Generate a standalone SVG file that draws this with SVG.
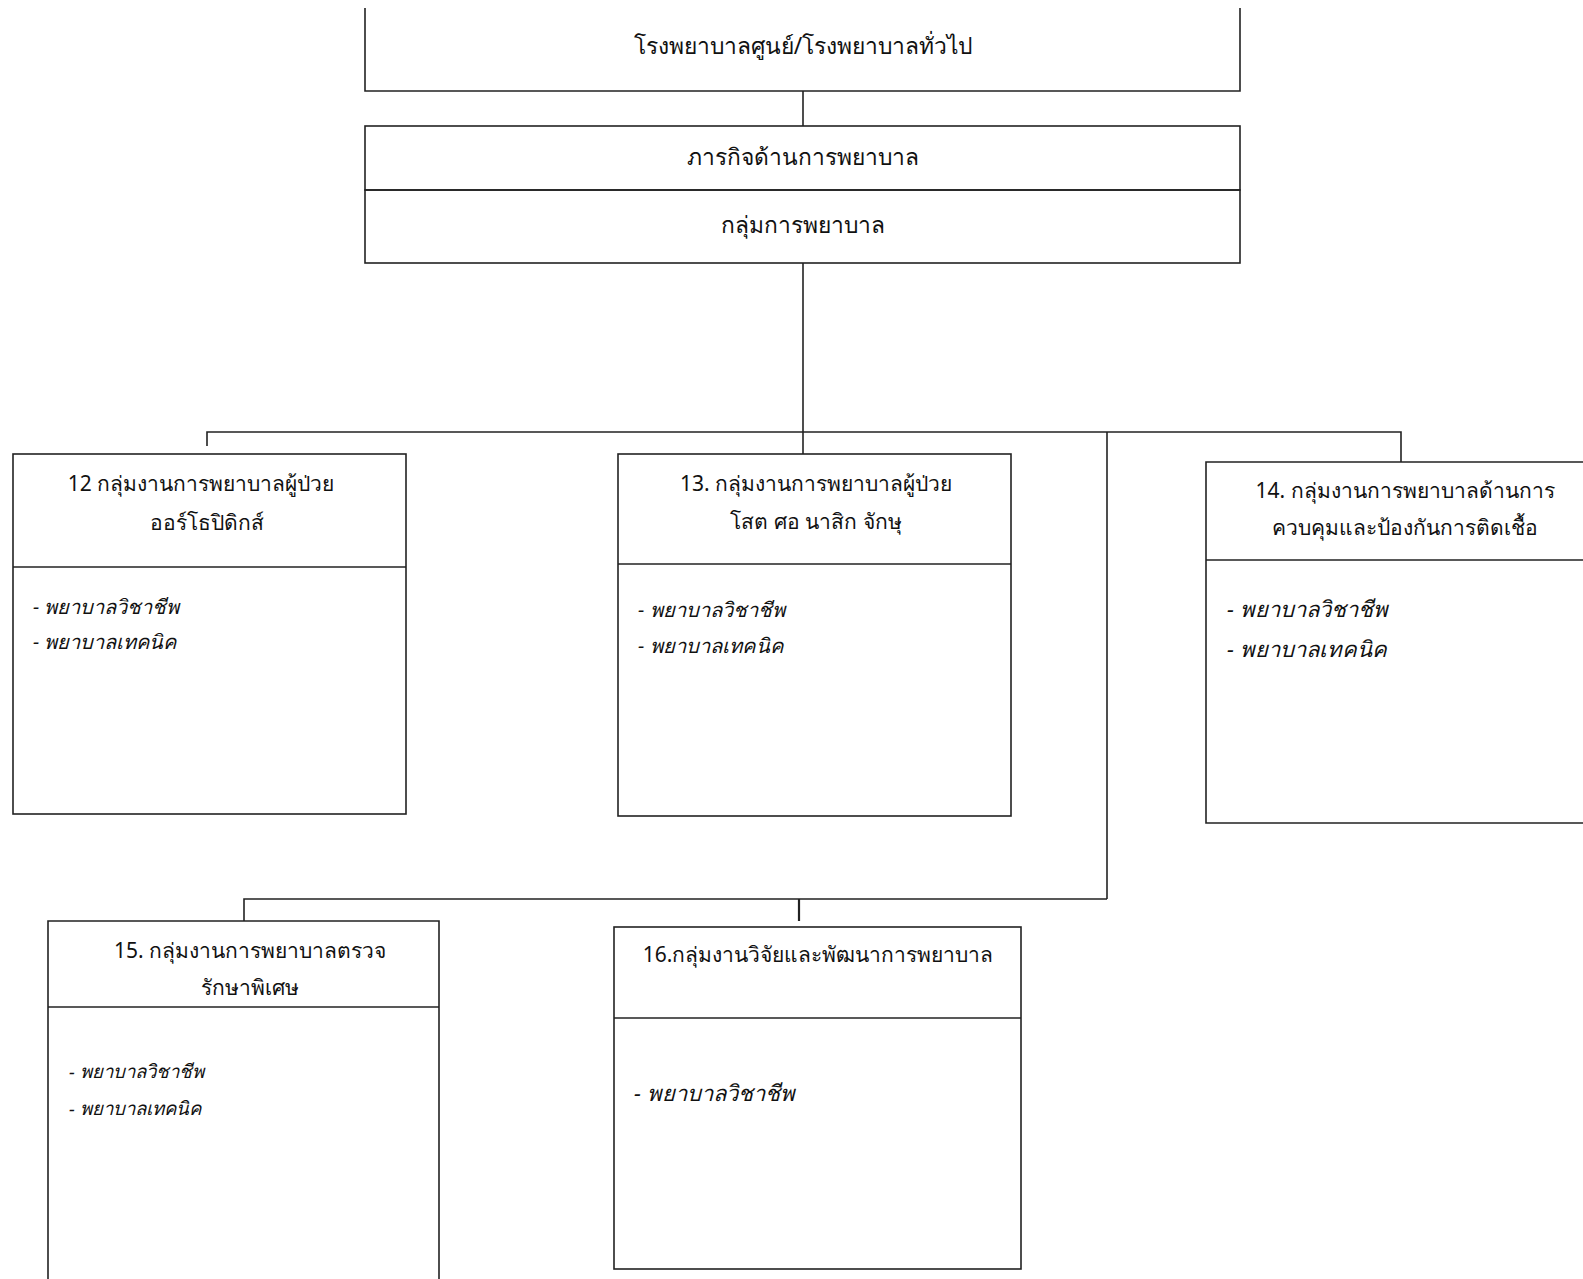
<svg xmlns="http://www.w3.org/2000/svg" width="1583" height="1279" viewBox="0 0 1583 1279">
<style>
.box{fill:none;stroke:#222;stroke-width:1.6}
.ln{fill:none;stroke:#222;stroke-width:1.6}
.t{font-family:"Noto Sans","DejaVu Sans",sans-serif;font-size:21px;fill:#111;text-anchor:middle}
.it{font-family:"Noto Sans","DejaVu Sans",sans-serif;font-size:20px;fill:#111;font-style:italic}
</style>
<rect width="1583" height="1279" fill="#fff"/>
<g id="connectors">
<line class="ln" x1="803" y1="91" x2="803" y2="126"/>
<line class="ln" x1="803" y1="263" x2="803" y2="454"/>
<polyline class="ln" points="207,446 207,432 1401,432 1401,462"/>
<line class="ln" x1="1107" y1="432" x2="1107" y2="899"/>
<polyline class="ln" points="244,921 244,899 1107,899"/>
<line class="ln" x1="799" y1="899" x2="799" y2="921" style="stroke-width:2.2"/>
</g>
<g id="n-hospital">
<polyline class="box" points="365,8 365,91 1240,91 1240,8"/>
<text class="t" x="803" y="54" style="font-size:22.8px">โรงพยาบาลศูนย์/โรงพยาบาลทั่วไป</text>
</g>
<g id="n-mission">
<rect class="box" x="365" y="126" width="875" height="64"/>
<text class="t" x="803" y="165" style="font-size:22.8px">ภารกิจด้านการพยาบาล</text>
</g>
<g id="n-group">
<rect class="box" x="365" y="190" width="875" height="73"/>
<text class="t" x="803" y="233" style="font-size:22.8px">กลุ่มการพยาบาล</text>
</g>
<g id="n12">
<rect class="box" x="13" y="454" width="393" height="360"/>
<line class="ln" x1="13" y1="567" x2="406" y2="567"/>
<text class="t" x="201" y="491">12 กลุ่มงานการพยาบาลผู้ป่วย</text>
<text class="t" x="207" y="530">ออร์โธปิดิกส์</text>
<text class="it" x="33" y="614">- พยาบาลวิชาชีพ</text>
<text class="it" x="33" y="649">- พยาบาลเทคนิค</text>
</g>
<g id="n13">
<rect class="box" x="618" y="454" width="393" height="362"/>
<line class="ln" x1="618" y1="564" x2="1011" y2="564"/>
<text class="t" x="816" y="491">13. กลุ่มงานการพยาบาลผู้ป่วย</text>
<text class="t" x="816" y="529">โสต ศอ นาสิก จักษุ</text>
<text class="it" x="638" y="617" style="font-size:20.2px">- พยาบาลวิชาชีพ</text>
<text class="it" x="638" y="653" style="font-size:20.2px">- พยาบาลเทคนิค</text>
</g>
<g id="n14">
<polyline class="box" points="1583,462 1206,462 1206,823 1583,823"/>
<line class="ln" x1="1206" y1="560" x2="1583" y2="560"/>
<text class="t" x="1405" y="498">14. กลุ่มงานการพยาบาลด้านการ</text>
<text class="t" x="1405" y="535">ควบคุมและป้องกันการติดเชื้อ</text>
<text class="it" x="1227" y="617" style="font-size:22px">- พยาบาลวิชาชีพ</text>
<text class="it" x="1227" y="657" style="font-size:22px">- พยาบาลเทคนิค</text>
</g>
<g id="n15">
<polyline class="box" points="48,1279 48,921 439,921 439,1279"/>
<line class="ln" x1="48" y1="1007" x2="439" y2="1007"/>
<text class="t" x="250" y="958">15. กลุ่มงานการพยาบาลตรวจ</text>
<text class="t" x="250" y="995">รักษาพิเศษ</text>
<text class="it" x="69" y="1078" style="font-size:18.6px">- พยาบาลวิชาชีพ</text>
<text class="it" x="69" y="1115" style="font-size:18.6px">- พยาบาลเทคนิค</text>
</g>
<g id="n16">
<rect class="box" x="614" y="927" width="407" height="342"/>
<line class="ln" x1="614" y1="1018" x2="1021" y2="1018"/>
<text class="t" x="818" y="962">16.กลุ่มงานวิจัยและพัฒนาการพยาบาล</text>
<text class="it" x="634" y="1101" style="font-size:22px">- พยาบาลวิชาชีพ</text>
</g>
</svg>
